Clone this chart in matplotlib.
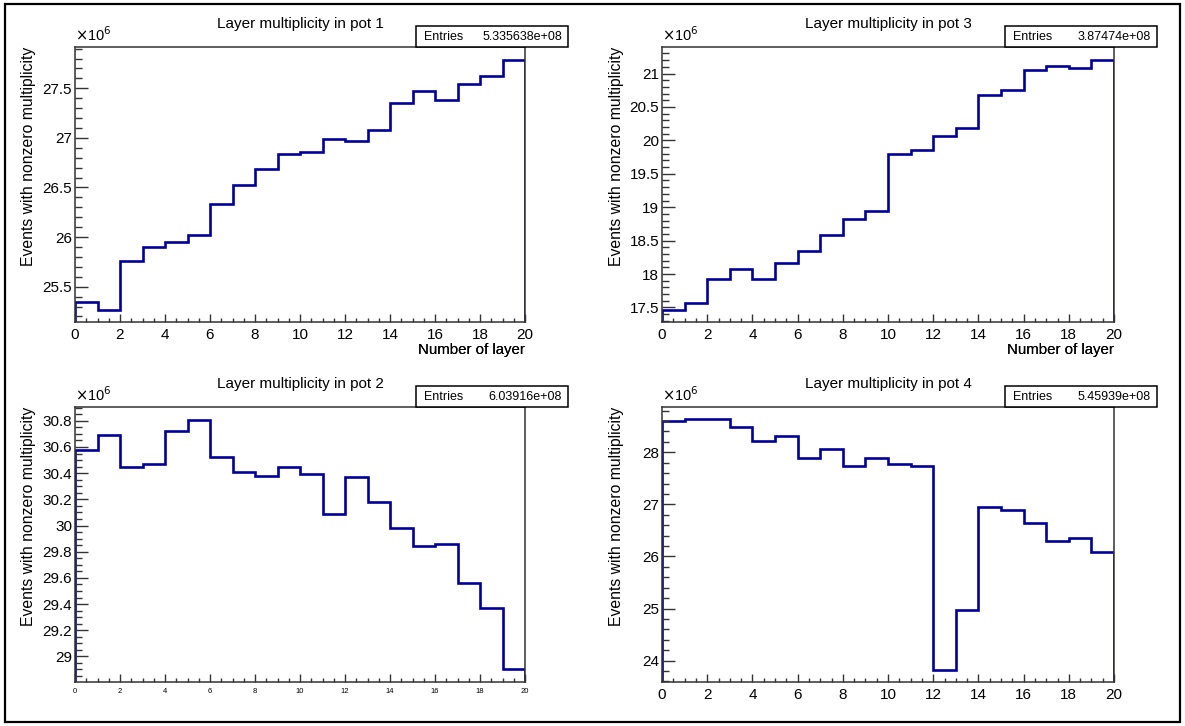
import numpy as np
import matplotlib
matplotlib.use("Agg")
import matplotlib.pyplot as plt
from matplotlib.ticker import MultipleLocator, FormatStrFormatter
from matplotlib.patches import Rectangle

plt.rcParams['font.family'] = ['Liberation Sans', 'DejaVu Sans']

# bin edges: 20 layers
edges = np.arange(0, 21)

# events with nonzero multiplicity per layer (x 1e6)
pot1 = [25.35, 25.27, 25.76, 25.90, 25.95, 26.02, 26.33, 26.52, 26.69, 26.84,
        26.86, 26.99, 26.97, 27.08, 27.35, 27.47, 27.38, 27.54, 27.62, 27.79]
pot2 = [30.58, 30.69, 30.45, 30.47, 30.72, 30.81, 30.52, 30.41, 30.38, 30.45,
        30.39, 30.09, 30.37, 30.18, 29.98, 29.84, 29.86, 29.56, 29.37, 28.90]
pot3 = [17.47, 17.57, 17.93, 18.07, 17.93, 18.17, 18.35, 18.59, 18.83, 18.95,
        19.80, 19.85, 20.07, 20.18, 20.68, 20.75, 21.06, 21.12, 21.08, 21.21]
pot4 = [28.61, 28.63, 28.63, 28.48, 28.22, 28.31, 27.89, 28.06, 27.74, 27.90,
        27.78, 27.73, 23.83, 24.98, 26.95, 26.90, 26.64, 26.30, 26.36, 26.09]

titles = ["Layer multiplicity in pot 1", "Layer multiplicity in pot 3",
          "Layer multiplicity in pot 2", "Layer multiplicity in pot 4"]
entries = ["5.335638e+08", "3.87474e+08", "6.03916e+08", "5.45939e+08"]
series = [pot1, pot3, pot2, pot4]
major_steps = [0.5, 0.5, 0.2, 1.0]
minor_steps = [0.1, 0.1, 0.05, 0.2]

W, H = 1185, 726
fig = plt.figure(figsize=(W / 100, H / 100), dpi=100)

# outer frame
fig.patches.append(Rectangle((5 / W, 4 / H), 1 - 10 / W, 1 - 8 / H,
                             transform=fig.transFigure, fill=False,
                             edgecolor='black', linewidth=1.6))

# axes boxes in pixels: left, top, right, bottom
boxes = [(75, 47, 525, 322), (662, 47, 1114, 322),
         (75, 407, 525, 682), (662, 407, 1114, 682)]
frame_col = '#333333'

for i, (vals, (l, t, r, b)) in enumerate(zip(series, boxes)):
    ax = fig.add_axes([l / W, 1 - b / H, (r - l) / W, (b - t) / H])
    vals = np.array(vals)
    ax.stairs(vals, edges, color='#000099', linewidth=1.9)
    lo, hi = vals.min(), vals.max()
    pad = 0.05 * (hi - lo)
    ax.set_xlim(0, 20)
    ax.set_ylim(lo - pad, hi + pad)

    ax.xaxis.set_major_locator(MultipleLocator(2))
    ax.xaxis.set_minor_locator(MultipleLocator(0.5))
    ax.yaxis.set_major_locator(MultipleLocator(major_steps[i]))
    ax.yaxis.set_minor_locator(MultipleLocator(minor_steps[i]))
    ax.yaxis.set_major_formatter(FormatStrFormatter('%g'))

    xfs = 5.5 if i == 2 else 11
    ax.tick_params(axis='x', which='major', direction='in', length=6,
                   width=1, color=frame_col, labelsize=xfs, pad=4)
    ax.tick_params(axis='x', which='minor', direction='in', length=3,
                   width=1, color=frame_col)
    ax.tick_params(axis='y', which='major', direction='in', length=9.5,
                   width=1, color=frame_col, labelsize=11, pad=2)
    ax.tick_params(axis='y', which='minor', direction='in', length=4.8,
                   width=1, color=frame_col)
    for s in ax.spines.values():
        s.set_color(frame_col)
        s.set_linewidth(1.1)

    # y title sits at the top end of the axis, like ROOT does
    ax.set_ylabel("Events with nonzero multiplicity", fontsize=11.3)
    ax.yaxis.set_label_coords(-46 / (r - l), 1.0)
    ax.yaxis.label.set_ha('right')
    ax.yaxis.label.set_va('center')

    ax.text(1.0, -(350 - b) / (b - t), "Number of layer",
            transform=ax.transAxes, ha='right', va='center', fontsize=10.8)
    ax.text(0.0, 1.012, r"$\times$10$^{6}$", transform=ax.transAxes,
            ha='left', va='bottom', fontsize=10.5)

    # histogram title
    fig.text((l + r) / 2 / W, 1 - (t - 23) / H, titles[i], ha='center',
             va='center', fontsize=11)

    # statistics box
    bx0, bx1 = r - 109, r + 43
    by0, by1 = t - 21, t
    fig.patches.append(Rectangle((bx0 / W, 1 - by1 / H), (bx1 - bx0) / W,
                                 (by1 - by0) / H, transform=fig.transFigure,
                                 facecolor='white', edgecolor='black',
                                 linewidth=1.1, zorder=5))
    fig.text((bx0 + 8) / W, 1 - (by0 + by1) / 2 / H, "Entries",
             ha='left', va='center', fontsize=9, zorder=6)
    fig.text((bx1 - 6) / W, 1 - (by0 + by1) / 2 / H, entries[i],
             ha='right', va='center', fontsize=9, zorder=6)

fig.savefig("out.png", dpi=100)
